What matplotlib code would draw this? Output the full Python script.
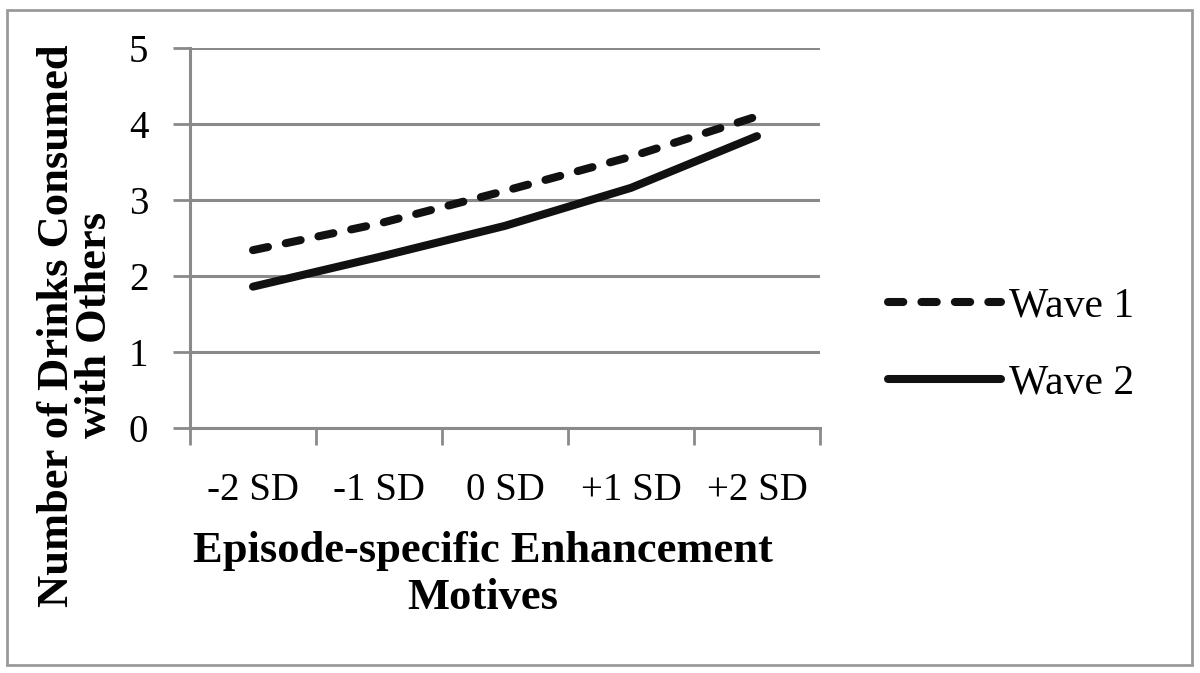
import matplotlib
matplotlib.use("Agg")
import matplotlib.pyplot as plt
from matplotlib.patches import Rectangle

categories = ["-2 SD", "-1 SD", "0 SD", "+1 SD", "+2 SD"]
wave1 = [2.34, 2.69, 3.12, 3.57, 4.10]
wave2 = [1.86, 2.25, 2.66, 3.16, 3.84]
series_names = ["Wave 1", "Wave 2"]

plt.rcParams['font.family'] = ['Liberation Serif', 'DejaVu Serif']

fig = plt.figure(figsize=(12, 6.73), dpi=100)
ax = fig.add_axes([190/1200, 1-428/673, 630/1200, 380/673])

x = list(range(len(categories)))
gray = '#8a8a8a'
ax.plot(x, wave1, color='#111111', lw=5.8, linestyle=(0, (1.9, 2.25)),
        dash_capstyle='round', solid_capstyle='round', label=series_names[0])
ax.plot(x, wave2, color='#111111', lw=5.8, solid_capstyle='round', label=series_names[1])

ax.set_xlim(-0.5, len(categories) - 0.5)
ax.set_ylim(0, 5)
ax.set_yticks(range(0, 6))
ax.set_xticks(x)
ax.set_xticklabels(categories)
ax.set_xticks([i - 0.5 for i in range(len(categories) + 1)], minor=True)
ax.tick_params(axis='x', which='major', length=0, pad=32, labelsize=28)
ax.tick_params(axis='x', which='minor', length=12, width=2, color=gray, direction='out')
ax.tick_params(axis='y', length=12, width=2, color=gray, direction='out', pad=18, labelsize=28)

ax.grid(axis='y', color=gray, lw=2.2)
ax.set_axisbelow(True)
for s in ['top', 'right']:
    ax.spines[s].set_visible(False)
for s in ['left', 'bottom']:
    ax.spines[s].set_color(gray)
    ax.spines[s].set_linewidth(2.2)

ax.set_xlabel("Episode-specific Enhancement\nMotives", fontsize=32, fontweight='bold',
              linespacing=1.2)
ax.xaxis.set_label_coords(0.465, -0.272)
ax.set_ylabel("Number of Drinks Consumed\nwith Others", fontsize=32, fontweight='bold',
              linespacing=0.95)
ax.yaxis.set_label_coords(-0.119, 0.27)

leg = ax.legend(loc='center left', bbox_to_anchor=(888/1200, 1-345/673),
                bbox_transform=fig.transFigure, frameon=False, fontsize=30,
                handlelength=2.7, handletextpad=0.2, labelspacing=0.92,
                borderaxespad=0, borderpad=0)

fig.patches.append(Rectangle((7/1200, 8/673), 1185/1200, 655/673, transform=fig.transFigure,
                             fill=False, edgecolor='#9a9a9a', lw=2))

fig.savefig("out.png", dpi=100)
